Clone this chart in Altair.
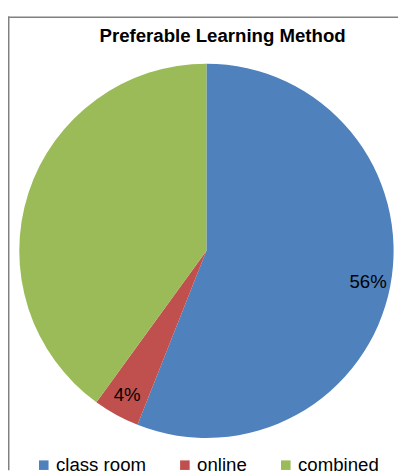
import altair as alt
import pandas as pd

categories = ["class room", "online", "combined"]
values = [56, 4, 40]
labels = ["56%", "4%", ""]
colors = ["#4F81BD", "#C0504D", "#9BBB59"]

df = pd.DataFrame({"method": categories, "value": values, "label": labels,
                   "idx": list(range(len(categories)))})

W, H = 398, 467
CX, CY, R = 202.5, 243, 191

base = alt.Chart(df).encode(
    theta=alt.Theta("value:Q", stack=True),
    order=alt.Order("idx:Q"),
)

pie = base.mark_arc(outerRadius=R, stroke=None).encode(
    x=alt.value(CX), y=alt.value(CY),
    color=alt.Color("method:N", sort=categories,
                    scale=alt.Scale(domain=categories, range=colors),
                    legend=alt.Legend(title=None, orient="none", direction="horizontal",
                                      legendX=27, legendY=452,
                                      symbolType="square", symbolSize=95,
                                      symbolStrokeWidth=0, symbolOpacity=1,
                                      labelFontSize=19, labelFont="Liberation Sans",
                                      labelColor="#000000", labelOffset=3,
                                      columnPadding=30, padding=0)),
)

text = base.mark_text(radius=168, fontSize=19, font="Liberation Sans",
                      color="#000000").encode(
    x=alt.value(CX), y=alt.value(CY),
    text="label:N",
)

title = alt.Chart(pd.DataFrame({"t": ["Preferable Learning Method"]})).mark_text(
    fontSize=19, fontWeight="bold", font="Liberation Sans", color="#000000",
    baseline="alphabetic", align="center",
).encode(x=alt.value(219), y=alt.value(30), text="t:N")

frame_df = pd.DataFrame({"k": [0]})
left = alt.Chart(frame_df).mark_rule(color="#808080", strokeWidth=1.5).encode(
    x=alt.value(0.75), y=alt.value(4), y2=alt.value(H))
top = alt.Chart(frame_df).mark_rule(color="#808080", strokeWidth=1.5).encode(
    x=alt.value(0), x2=alt.value(W), y=alt.value(4.75))

chart = alt.layer(left, top, pie, text, title).properties(
    width=W, height=H,
    autosize=alt.AutoSizeParams(type="none"),
    padding=0,
).configure_view(stroke=None)

chart.save("out.html", embed_options={"renderer": "svg", "actions": False})
